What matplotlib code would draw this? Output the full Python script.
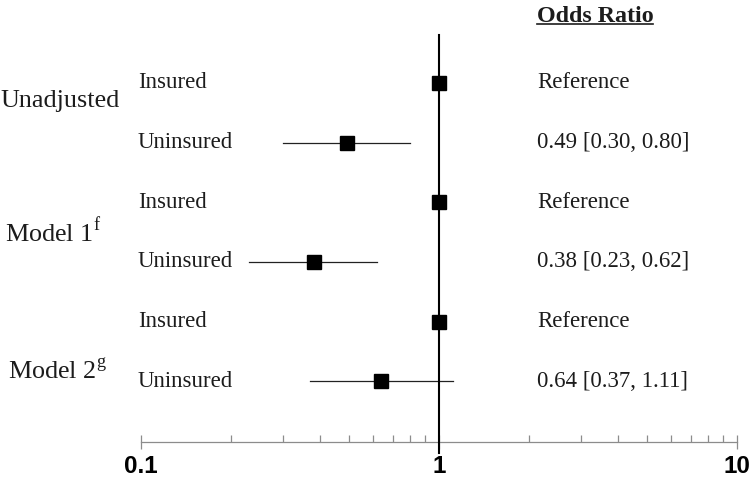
import matplotlib
matplotlib.use('Agg')
import matplotlib.pyplot as plt
import matplotlib.transforms as mtransforms
from matplotlib.lines import Line2D
from matplotlib.ticker import LogLocator, NullFormatter, FixedLocator, FixedFormatter

# dados
grupos = ['Unadjusted', 'Model 1', 'Model 2']
sobrescritos = ['', 'f', 'g']
linhas = ['Insured', 'Uninsured', 'Insured', 'Uninsured', 'Insured', 'Uninsured']
oddsRatio = [1.0, 0.49, 1.0, 0.38, 1.0, 0.64]
icInferior = [1.0, 0.30, 1.0, 0.23, 1.0, 0.37]
icSuperior = [1.0, 0.80, 1.0, 0.62, 1.0, 1.11]
textoOR = ['Reference', '0.49 [0.30, 0.80]', 'Reference',
           '0.38 [0.23, 0.62]', 'Reference', '0.64 [0.37, 1.11]']
ticksX = [0.1, 1, 10]
ticksTexto = ['0.1', '1', '10']

plt.rcParams['mathtext.fontset'] = 'custom'
plt.rcParams['mathtext.rm'] = 'Liberation Serif'
serif = 'Liberation Serif'
corTexto = '#1c1c1c'

fig = plt.figure(figsize=(7.5, 4.82), dpi=100)
ax = fig.add_axes([0.188, 0.083, 0.7947, 0.917])

posY = list(range(len(linhas)))
for i in posY:
    if icInferior[i] != icSuperior[i]:
        ax.plot([icInferior[i], icSuperior[i]], [i, i], color='#222222', lw=0.9, zorder=2)
ax.plot(oddsRatio, posY, linestyle='none', marker='s', markersize=9.4,
        color='black', zorder=4)

# linha de referencia em 1
ax.plot([1, 1], [-0.8, 6.2], color='black', lw=1.5, clip_on=False, zorder=3)

ax.set_xscale('log')
ax.set_xlim(0.1, 10)
ax.set_ylim(6.02, -1.39)

for lado in ['left', 'top', 'right']:
    ax.spines[lado].set_visible(False)
ax.spines['bottom'].set_color('#8c8c8c')
ax.spines['bottom'].set_linewidth(0.9)
ax.set_yticks([])

ax.xaxis.set_major_locator(FixedLocator(ticksX))
ax.xaxis.set_major_formatter(FixedFormatter(ticksTexto))
ax.xaxis.set_minor_locator(LogLocator(base=10, subs=range(2, 10)))
ax.xaxis.set_minor_formatter(NullFormatter())
ax.tick_params(axis='x', which='major', direction='inout', length=10, width=0.9,
               color='#8c8c8c', pad=4.5)
ax.tick_params(axis='x', which='minor', direction='in', length=5, width=0.9,
               color='#8c8c8c')
for t in ax.get_xticklabels():
    t.set_fontfamily('Liberation Sans')
    t.set_fontweight('bold')
    t.set_fontsize(17.5)
    t.set_color('black')

trans = mtransforms.blended_transform_factory(fig.transFigure, ax.transData)

for i in posY:
    ax.text(0.184, i, linhas[i], transform=trans, fontsize=16.5, family=serif,
            color=corTexto, va='center', ha='left')
    ax.text(0.716, i, textoOR[i], transform=trans, fontsize=16.5, family=serif,
            color=corTexto, va='center', ha='left')

grupoY = [0.3, 2.5, 4.84]
grupoX = [0.0, 0.007, 0.011]
for g in range(len(grupos)):
    rotulo = grupos[g]
    if sobrescritos[g]:
        rotulo = rotulo + r'$^{\mathrm{' + sobrescritos[g] + '}}$'
    ax.text(grupoX[g], grupoY[g], rotulo, transform=trans, fontsize=18.8, family=serif,
            color=corTexto, va='center', ha='left')

titulo = fig.text(0.7155, 1 - 17 / 482, 'Odds Ratio', fontsize=17.3, family=serif,
                  fontweight='bold', color=corTexto, va='center', ha='left')
fig.canvas.draw()
bb = titulo.get_window_extent().transformed(fig.transFigure.inverted())
fig.add_artist(Line2D([bb.x0, bb.x1], [1 - 24 / 482, 1 - 24 / 482],
                      transform=fig.transFigure, color=corTexto, lw=1.2))

fig.savefig('out.png', dpi=100)
